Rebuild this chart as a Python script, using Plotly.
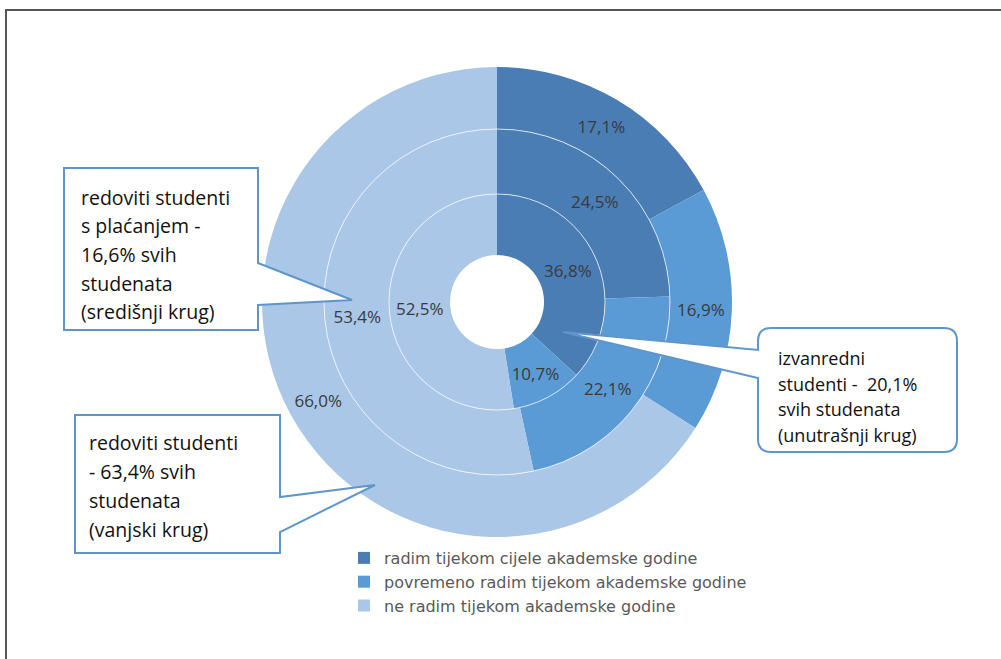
import plotly.graph_objects as go

# ---- data ----
categories = ["radim tijekom cijele akademske godine",
              "povremeno radim tijekom akademske godine",
              "ne radim tijekom akademske godine"]
outer_vals = [17.1, 16.9, 66.0]   # redoviti studenti (vanjski krug)
middle_vals = [24.5, 22.1, 53.4]  # redoviti s plaćanjem (središnji krug)
inner_vals = [36.8, 10.7, 52.5]   # izvanredni (unutrašnji krug)
colors = ["#4a7db4", "#5b9bd5", "#aac7e8"]

box_top_lines = ["redoviti studenti", "s plaćanjem -", "16,6% svih", "studenata", "(središnji krug)"]
box_bottom_lines = ["redoviti studenti", "- 63,4% svih", "studenata", "(vanjski krug)"]
box_right_lines = ["izvanredni", "studenti -  20,1%", "svih studenata", "(unutrašnji krug)"]

# ---- layout geometry (pixels) ----
W, H = 1001, 659
CX, CY = 497, 302
R_OUT, R_MID, R_IN, R_HOLE = 235, 173, 108, 47


def px(x):
    return x / W


def py(y):
    return 1 - y / H


def dom(r):
    return dict(x=[px(CX - r), px(CX + r)], y=[py(CY + r), py(CY - r)])


FONT = "Open Sans, DejaVu Sans, sans-serif"

fig = go.Figure()
rings = [(outer_vals, R_OUT, R_MID, True),
         (middle_vals, R_MID, R_IN, False),
         (inner_vals, R_IN, R_HOLE, False)]
for vals, r, rin, leg in rings:
    fig.add_trace(go.Pie(
        labels=categories, values=vals, domain=dom(r), hole=rin / r,
        sort=False, direction="clockwise", rotation=0,
        marker=dict(colors=colors, line=dict(width=0)),
        texttemplate="%{value:.1f}%", textposition="inside",
        insidetextorientation="horizontal",
        textfont=dict(family=FONT, size=17, color="#3a3a3a"),
        hoverinfo="skip", showlegend=leg,
    ))

shapes = []
# thin white separators between rings
for r in (R_MID, R_IN):
    shapes.append(dict(type="circle", xref="paper", yref="paper",
                       x0=px(CX - r), x1=px(CX + r), y0=py(CY + r), y1=py(CY - r),
                       line=dict(color="rgba(255,255,255,0.7)", width=1)))


def path(points):
    s = ""
    for cmd, pts in points:
        s += cmd + " ".join(f"{px(x):.5f},{py(y):.5f}" for x, y in pts) + " "
    return s + "Z"


BORDER = "#5e96cc"
# top-left callout
shapes.append(dict(type="path", xref="paper", yref="paper", layer="above",
                   path=path([("M", [(64, 168)]), ("L", [(258, 168)]), ("L", [(258, 263)]),
                              ("L", [(352, 300)]), ("L", [(258, 305)]), ("L", [(258, 330)]),
                              ("L", [(64, 330)])]),
                   fillcolor="white", line=dict(color=BORDER, width=2)))
# bottom-left callout
shapes.append(dict(type="path", xref="paper", yref="paper", layer="above",
                   path=path([("M", [(75, 415)]), ("L", [(280, 415)]), ("L", [(280, 497)]),
                              ("L", [(375, 485)]), ("L", [(280, 532)]), ("L", [(280, 553)]),
                              ("L", [(75, 553)])]),
                   fillcolor="white", line=dict(color=BORDER, width=2)))
# right callout (rounded)
rr = 13
shapes.append(dict(type="path", xref="paper", yref="paper", layer="above",
                   path=path([("M", [(758 + rr, 328)]), ("L", [(957 - rr, 328)]),
                              ("Q", [(957, 328), (957, 328 + rr)]), ("L", [(957, 452 - rr)]),
                              ("Q", [(957, 452), (957 - rr, 452)]), ("L", [(758 + rr, 452)]),
                              ("Q", [(758, 452), (758, 452 - rr)]), ("L", [(758, 378)]),
                              ("L", [(563, 332)]), ("L", [(758, 350)]), ("L", [(758, 328 + rr)]),
                              ("Q", [(758, 328), (758 + rr, 328)])]),
                   fillcolor="white", line=dict(color=BORDER, width=2)))
# frame (top and left)
shapes.append(dict(type="line", xref="paper", yref="paper", x0=px(5), x1=1, y0=py(10), y1=py(10),
                   line=dict(color="#555555", width=2)))
shapes.append(dict(type="line", xref="paper", yref="paper", x0=px(6), x1=px(6), y0=py(9), y1=0,
                   line=dict(color="#555555", width=2)))

annotations = []


def add_lines(lines, x, y0, dy, size):
    for i, t in enumerate(lines):
        annotations.append(dict(text=t, x=px(x), y=py(y0 + i * dy), xref="paper", yref="paper",
                                xanchor="left", yanchor="middle", showarrow=False,
                                font=dict(family=FONT, size=size, color="#111111")))


add_lines(box_top_lines, 79, 197, 28.7, 19.5)
add_lines(box_bottom_lines, 87, 442, 29.3, 19.5)
add_lines(box_right_lines, 776, 358, 25.7, 18)

fig.update_layout(
    width=W, height=H, margin=dict(l=0, r=0, t=0, b=0),
    paper_bgcolor="white", plot_bgcolor="white",
    separators=",.",
    shapes=shapes, annotations=annotations,
    legend=dict(x=px(344), y=py(541), xanchor="left", yanchor="top",
                font=dict(family="DejaVu Sans, sans-serif", size=16, color="#595959"),
                bgcolor="rgba(0,0,0,0)", traceorder="normal"),
)

fig.write_html("out.html", config={"displayModeBar": False},
               post_script="document.body.style.margin='0';document.body.style.padding='0';")
